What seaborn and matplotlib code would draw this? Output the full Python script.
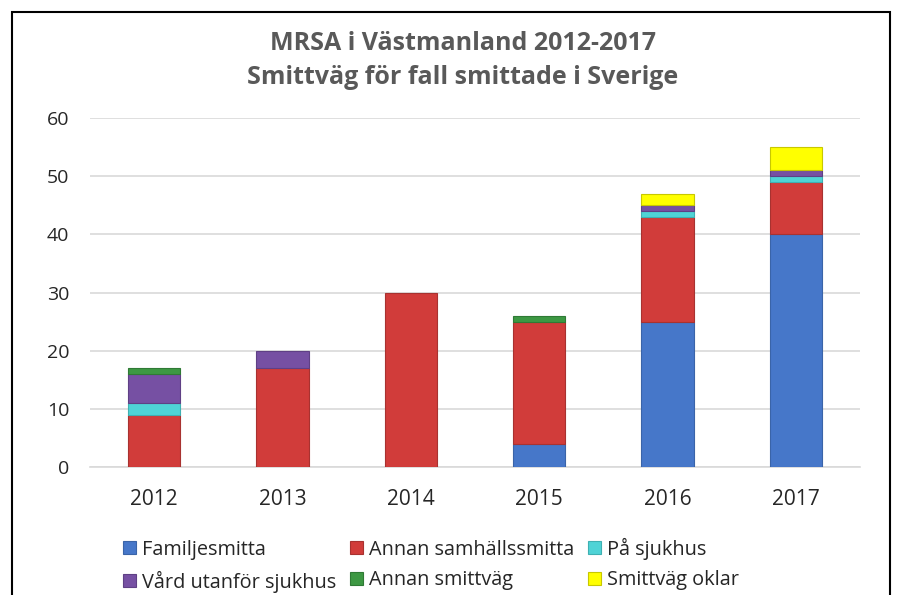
import numpy as np
import pandas as pd
import matplotlib
matplotlib.use("Agg")
import matplotlib.pyplot as plt
import seaborn as sns
from matplotlib.patches import Rectangle

years = ["2012", "2013", "2014", "2015", "2016", "2017"]
familjesmitta = [0, 0, 0, 4, 25, 40]
annan_samhall = [9, 17, 30, 21, 18, 9]
pa_sjukhus = [2, 0, 0, 0, 1, 1]
vard_utanfor = [5, 3, 0, 0, 1, 1]
annan_smittvag = [1, 0, 0, 1, 0, 0]
smittvag_oklar = [0, 0, 0, 0, 2, 4]

series_names = ["Familjesmitta", "Annan samhällssmitta", "På sjukhus",
                "Vård utanför sjukhus", "Annan smittväg", "Smittväg oklar"]
series_vals = [familjesmitta, annan_samhall, pa_sjukhus, vard_utanfor,
               annan_smittvag, smittvag_oklar]
colors = ["#4677c9", "#d13c3a", "#4fd3d6", "#7650a3", "#3d9843", "#ffff00"]
edges = ["#3a64a8", "#a83230", "#3fb0b2", "#5f4085", "#2f7a35", "#c8c800"]

sns.set_theme(style="white")
plt.rcParams['font.family'] = ['Open Sans', 'DejaVu Sans']

fig = plt.figure(figsize=(9.01, 5.95), dpi=100)
ax = fig.add_axes([90 / 901, 128 / 595, (860 - 90) / 901, (467 - 118) / 595])

bottom = np.zeros(len(years))
handles = []
for name, vals, c, ec in zip(series_names, series_vals, colors, edges):
    df = pd.DataFrame({"year": years, "value": vals})
    sns.barplot(data=df, x="year", y="value", order=years, color=c,
                bottom=bottom.copy(), width=0.41, ax=ax, edgecolor=ec,
                linewidth=0.8, zorder=3, errorbar=None, saturation=1)
    handles.append(Rectangle((0, 0), 1, 1, facecolor=c, edgecolor=ec, linewidth=0.8))
    bottom += np.array(vals)

# hide zero-height segments
for p in list(ax.patches):
    if p.get_height() == 0:
        p.remove()

ax.set_ylim(0, 60)
ax.set_xlim(-0.5, 5.5)
ax.set_yticks(range(0, 61, 10))
ax.yaxis.grid(True, color="#d9d9d9", linewidth=1.2, zorder=0)
ax.set_axisbelow(True)
for s in ["top", "right", "left"]:
    ax.spines[s].set_visible(False)
ax.spines["bottom"].set_color("#d9d9d9")
ax.spines["bottom"].set_linewidth(1.2)
ax.set_xlabel("")
ax.set_ylabel("")
ax.tick_params(axis="both", length=0, labelcolor="#262626")
ax.tick_params(axis="y", pad=15, labelsize=14)
ax.tick_params(axis="x", pad=16, labelsize=15)

fig.text(463 / 901, 1 - 43 / 595, "MRSA i Västmanland 2012-2017", ha="center", va="center",
         fontsize=18, fontweight="bold", color="#595959")
fig.text(463 / 901, 1 - 78 / 595, "Smittväg för fall smittade i Sverige", ha="center", va="center",
         fontsize=18, fontweight="bold", color="#595959")

order = [0, 3, 1, 4, 2, 5]
leg = fig.legend([handles[i] for i in order], [series_names[i] for i in order],
                 ncol=3, loc="center left",
                 bbox_to_anchor=(123 / 901, 1 - 565 / 595), frameon=False,
                 fontsize=14.3, handlelength=0.65, handleheight=0.65, handletextpad=0.3,
                 columnspacing=0.7, labelspacing=0.55, borderpad=0, borderaxespad=0)
for t in leg.get_texts():
    t.set_color("#262626")

fig.patches.append(Rectangle((12 / 901, -0.01), (890 - 12) / 901, 1 - 12 / 595 + 0.01,
                             transform=fig.transFigure, fill=False, edgecolor="black",
                             linewidth=1.5))

fig.savefig("out.png", dpi=100)
